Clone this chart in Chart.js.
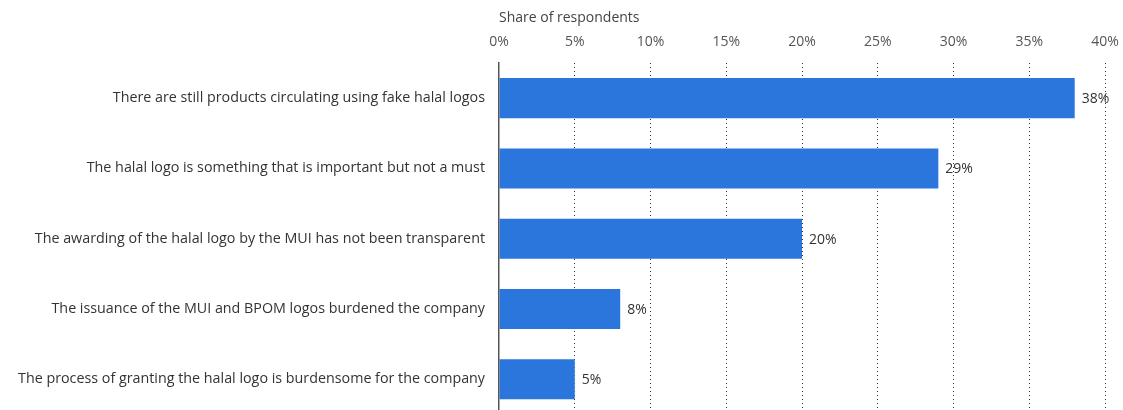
<!DOCTYPE html>
<html>
<head>
<meta charset="utf-8">
<script src="https://cdn.jsdelivr.net/npm/chart.js@4"></script>
<style>
  html, body { margin: 0; padding: 0; background: #fff; overflow: hidden; }
  #wrap { position: relative; width: 1123px; height: 429px; }
</style>
</head>
<body>
<div id="wrap"><canvas id="chart"></canvas></div>
<script>
// ── Data ────────────────────────────────────────────────────────────────────

const categories = [
  "There are still products circulating using fake halal logos",
  "The halal logo is something that is important but not a must",
  "The awarding of the halal logo by the MUI has not been transparent",
  "The issuance of the MUI and BPOM logos burdened the company",
  "The process of granting the halal logo is burdensome for the company"
];
const shares = [38, 29, 20, 8, 5];
const xTicks = [0, 5, 10, 15, 20, 25, 30, 35, 40];

const FONT = "'Open Sans', 'Noto Sans', sans-serif";

// ── Value labels at the end of each bar ─────────────────────────────────────

const barLabels = {
  id: "barLabels",
  afterDatasetsDraw(chart) {
    const ctx = chart.ctx;
    const meta = chart.getDatasetMeta(0);
    ctx.save();
    ctx.font = `14px ${FONT}`;
    ctx.fillStyle = "#333";
    ctx.textAlign = "left";
    ctx.textBaseline = "middle";
    meta.data.forEach((bar, i) => {
      ctx.fillText(`${shares[i]}%`, bar.x + 7, bar.y + 1);
    });
    ctx.restore();
  }
};

// ── Chart ───────────────────────────────────────────────────────────────────

new Chart(document.getElementById("chart"), {
  type: "bar",
  data: {
    labels: categories,
    datasets: [{
      data: shares,
      backgroundColor: "#2a76dd",
      borderWidth: 0,
      categoryPercentage: 1,
      barPercentage: 0.57
    }]
  },
  options: {
    indexAxis: "y",
    responsive: true,
    maintainAspectRatio: false,
    animation: false,
    layout: { padding: { top: 0, right: 18, bottom: 0, left: 0 } },
    plugins: { legend: { display: false }, tooltip: { enabled: false } },
    scales: {
      x: {
        position: "top",
        min: 0,
        max: 40,
        afterBuildTicks: scale => { scale.ticks = xTicks.map(v => ({ value: v })); },
        afterFit: scale => {
          scale.height = 63;
          // let the last tick label overhang into the right margin
          scale.paddingLeft = 0;
          scale.paddingRight = 0;
        },
        // border.dash sets the dash pattern of the grid lines in v4
        border: { display: false, dash: [1, 3] },
        grid: {
          color: ctx => ctx.tick && ctx.tick.value === 0 ? "rgba(0,0,0,0)" : "#333",
          lineWidth: 1,
          drawTicks: false
        },
        ticks: {
          padding: 13,
          color: "#555",
          font: { family: FONT, size: 14 },
          callback: v => `${v}%`
        },
        title: {
          display: true,
          text: "Share of respondents",
          align: "start",
          color: "#444",
          font: { family: FONT, size: 14 },
          padding: { top: 10, bottom: 0 }
        }
      },
      y: {
        afterFit: scale => { scale.width = 499; },
        border: { display: true, color: "#555", width: 1.5 },
        grid: { display: false },
        ticks: {
          padding: 6,
          color: "#333",
          font: { family: FONT, size: 14.3 }
        }
      }
    }
  },
  plugins: [barLabels]
});
</script>
</body>
</html>
